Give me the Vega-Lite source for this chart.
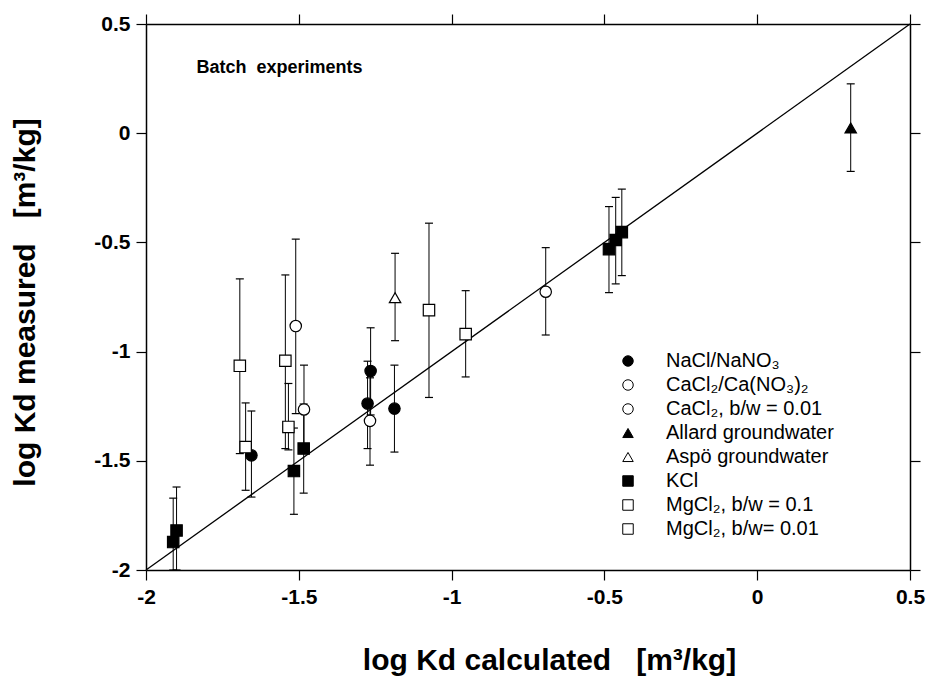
{
  "$schema": "https://vega.github.io/schema/vega-lite/v6.json",
  "width": 764,
  "height": 546,
  "autosize": {"type": "none"},
  "padding": {"left": 146, "top": 24, "right": 19, "bottom": 112},
  "background": "white",
  "config": {
    "view": {"stroke": null},
    "font": "Liberation Sans",
    "axis": {
      "domainColor": "black",
      "domainWidth": 1.5,
      "tickColor": "black",
      "tickWidth": 1.2,
      "tickSize": 10,
      "grid": false,
      "labelColor": "black",
      "titleColor": "black",
      "labelFont": "Liberation Sans",
      "titleFont": "Liberation Sans",
      "labelFlush": false,
      "labelOverlap": false
    },
    "legend": {
      "title": null,
      "orient": "none",
      "legendX": 472,
      "legendY": 327,
      "labelFontSize": 20,
      "labelFont": "Liberation Sans",
      "labelColor": "black",
      "symbolSize": 110,
      "symbolStrokeWidth": 1,
      "rowPadding": 4,
      "labelOffset": 28,
      "labelLimit": 400
    }
  },
  "datasets": {
    "pts": [
      {"series": "KCl", "x": -1.911, "y": -1.872, "lo": -2.0, "hi": -1.671},
      {"series": "KCl", "x": -1.900, "y": -1.819, "lo": -2.0, "hi": -1.62},
      {"series": "KCl", "x": -1.516, "y": -1.547, "lo": -1.745, "hi": -1.35},
      {"series": "KCl", "x": -1.484, "y": -1.444, "lo": -1.648, "hi": -1.24},
      {"series": "KCl", "x": -0.485, "y": -0.531, "lo": -0.730, "hi": -0.336},
      {"series": "KCl", "x": -0.463, "y": -0.489, "lo": -0.690, "hi": -0.294},
      {"series": "KCl", "x": -0.443, "y": -0.453, "lo": -0.652, "hi": -0.256},
      {"series": "NaCl/NaNO₃", "x": -1.655, "y": -1.475, "lo": -1.666, "hi": -1.272},
      {"series": "NaCl/NaNO₃", "x": -1.265, "y": -1.089, "lo": -1.29, "hi": -0.891},
      {"series": "NaCl/NaNO₃", "x": -1.275, "y": -1.238, "lo": -1.444, "hi": -1.044},
      {"series": "NaCl/NaNO₃", "x": -1.187, "y": -1.261, "lo": -1.46, "hi": -1.062},
      {"series": "CaCl₂/Ca(NO₃)₂", "x": -1.483, "y": -1.265, "lo": -1.46, "hi": -1.062},
      {"series": "CaCl₂/Ca(NO₃)₂", "x": -1.267, "y": -1.317, "lo": -1.52, "hi": -1.12},
      {"series": "CaCl₂/Ca(NO₃)₂", "x": -0.692, "y": -0.726, "lo": -0.924, "hi": -0.524},
      {"series": "CaCl₂, b/w = 0.01", "x": -1.510, "y": -0.883, "lo": -1.284, "hi": -0.485},
      {"series": "Allard groundwater", "x": 0.306, "y": 0.024, "lo": -0.175, "hi": 0.226},
      {"series": "Aspö groundwater", "x": -1.185, "y": -0.753, "lo": -0.95, "hi": -0.55},
      {"series": "MgCl₂, b/w = 0.1", "x": -1.674, "y": -1.437, "lo": -1.635, "hi": -1.235},
      {"series": "MgCl₂, b/w = 0.1", "x": -1.534, "y": -1.345, "lo": -1.45, "hi": -1.146},
      {"series": "MgCl₂, b/w = 0.1", "x": -0.954, "y": -0.920, "lo": -1.116, "hi": -0.721},
      {"series": "MgCl₂, b/w= 0.01", "x": -1.693, "y": -1.065, "lo": -1.467, "hi": -0.667},
      {"series": "MgCl₂, b/w= 0.01", "x": -1.544, "y": -1.042, "lo": -1.444, "hi": -0.649},
      {"series": "MgCl₂, b/w= 0.01", "x": -1.074, "y": -0.810, "lo": -1.21, "hi": -0.412}
    ],
    "diag": [
      {"x": -2, "y": -2},
      {"x": 0.5, "y": 0.5}
    ],
    "ann": [
      {"x": -1.835, "y": 0.30, "label": "Batch\u00a0\u00a0experiments"}
    ]
  },
  "layer": [
    {
      "data": {"name": "diag"},
      "mark": {"type": "line", "color": "black", "strokeWidth": 1.3},
      "encoding": {
        "x": {"field": "x", "type": "quantitative", "scale": {"domain": [-2, 0.5], "nice": false, "zero": false},
              "axis": {"orient": "top", "labels": false, "title": null, "values": [-2, -1.5, -1, -0.5, 0, 0.5]}},
        "y": {"field": "y", "type": "quantitative", "scale": {"domain": [-2, 0.5], "nice": false, "zero": false},
              "axis": {"orient": "right", "labels": false, "title": null, "values": [-2, -1.5, -1, -0.5, 0, 0.5]}}
      }
    },
    {
      "data": {"name": "pts"},
      "mark": {"type": "rule", "color": "black", "strokeWidth": 1},
      "encoding": {
        "x": {"field": "x", "type": "quantitative", "scale": {"domain": [-2, 0.5], "nice": false, "zero": false}, "axis": null},
        "y": {"field": "lo", "type": "quantitative", "scale": {"domain": [-2, 0.5], "nice": false, "zero": false}, "axis": null},
        "y2": {"field": "hi"}
      }
    },
    {
      "data": {"name": "pts"},
      "mark": {"type": "tick", "orient": "horizontal", "color": "black", "size": 8, "thickness": 1.2, "opacity": 1},
      "encoding": {
        "x": {"field": "x", "type": "quantitative", "scale": {"domain": [-2, 0.5], "nice": false, "zero": false}, "axis": null},
        "y": {"field": "lo", "type": "quantitative", "scale": {"domain": [-2, 0.5], "nice": false, "zero": false}, "axis": null}
      }
    },
    {
      "data": {"name": "pts"},
      "mark": {"type": "tick", "orient": "horizontal", "color": "black", "size": 8, "thickness": 1.2, "opacity": 1},
      "encoding": {
        "x": {"field": "x", "type": "quantitative", "scale": {"domain": [-2, 0.5], "nice": false, "zero": false}, "axis": null},
        "y": {"field": "hi", "type": "quantitative", "scale": {"domain": [-2, 0.5], "nice": false, "zero": false}, "axis": null}
      }
    },
    {
      "data": {"name": "pts"},
      "mark": {"type": "point", "strokeWidth": 1.2, "size": 130, "opacity": 1},
      "encoding": {
        "x": {"field": "x", "type": "quantitative", "scale": {"domain": [-2, 0.5], "nice": false, "zero": false},
              "axis": {"orient": "bottom", "values": [-2, -1.5, -1, -0.5, 0, 0.5], "labelExpr": "datum.value + ''",
                       "labelFontSize": 21, "labelFontWeight": "bold", "labelPadding": 6,
                       "title": "log Kd calculated\u00a0\u00a0\u00a0[m³/kg]", "titleFontSize": 30, "titleFontWeight": "bold",
                       "titleX": 403, "titleY": 90, "titleBaseline": "middle", "titleAlign": "center"}},
        "y": {"field": "y", "type": "quantitative", "scale": {"domain": [-2, 0.5], "nice": false, "zero": false},
              "axis": {"orient": "left", "values": [-2, -1.5, -1, -0.5, 0, 0.5], "labelExpr": "datum.value + ''",
                       "labelFontSize": 21, "labelFontWeight": "bold", "labelPadding": 6,
                       "title": "log Kd measured\u00a0\u00a0\u00a0[m³/kg]", "titleFontSize": 30, "titleFontWeight": "bold",
                       "titleX": -121, "titleY": 278, "titleAngle": -90, "titleBaseline": "middle", "titleAlign": "center"}},
        "shape": {"field": "series", "type": "nominal",
                  "scale": {"domain": ["NaCl/NaNO₃", "CaCl₂/Ca(NO₃)₂", "CaCl₂, b/w = 0.01", "Allard groundwater", "Aspö groundwater", "KCl", "MgCl₂, b/w = 0.1", "MgCl₂, b/w= 0.01"],
                            "range": ["circle", "circle", "circle", "triangle-up", "triangle-up", "square", "square", "square"]}},
        "fill": {"field": "series", "type": "nominal",
                 "scale": {"domain": ["NaCl/NaNO₃", "CaCl₂/Ca(NO₃)₂", "CaCl₂, b/w = 0.01", "Allard groundwater", "Aspö groundwater", "KCl", "MgCl₂, b/w = 0.1", "MgCl₂, b/w= 0.01"],
                           "range": ["black", "white", "white", "black", "white", "black", "white", "white"]}},
        "stroke": {"field": "series", "type": "nominal",
                   "scale": {"domain": ["NaCl/NaNO₃", "CaCl₂/Ca(NO₃)₂", "CaCl₂, b/w = 0.01", "Allard groundwater", "Aspö groundwater", "KCl", "MgCl₂, b/w = 0.1", "MgCl₂, b/w= 0.01"],
                             "range": ["black", "black", "black", "black", "black", "black", "black", "black"]}}
      }
    },
    {
      "data": {"name": "ann"},
      "mark": {"type": "text", "align": "left", "baseline": "middle", "fontSize": 18, "fontWeight": "bold", "font": "Liberation Sans", "color": "black"},
      "encoding": {
        "x": {"field": "x", "type": "quantitative", "scale": {"domain": [-2, 0.5], "nice": false, "zero": false}, "axis": null},
        "y": {"field": "y", "type": "quantitative", "scale": {"domain": [-2, 0.5], "nice": false, "zero": false}, "axis": null},
        "text": {"field": "label"}
      }
    }
  ],
  "resolve": {"axis": {"x": "independent", "y": "independent"}}
}
